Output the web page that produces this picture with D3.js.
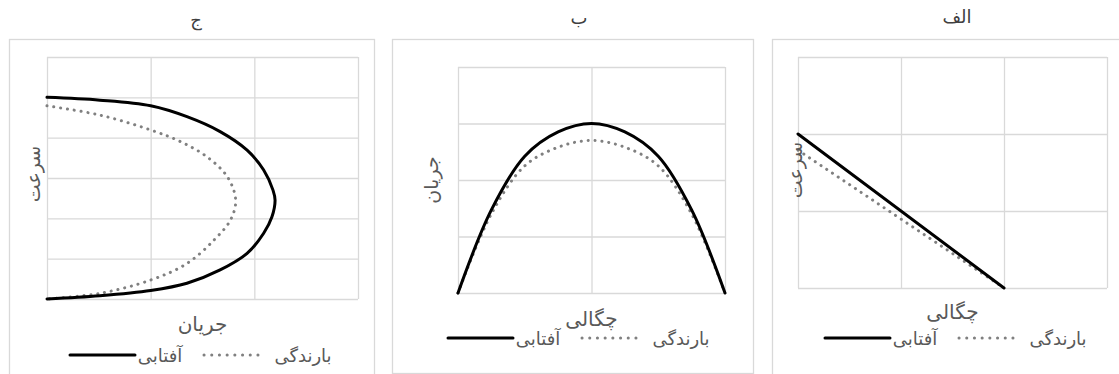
<!DOCTYPE html>
<html>
<head>
<meta charset="utf-8">
<script src="https://cdn.jsdelivr.net/npm/d3@7"></script>
<style>
  body { margin: 0; background: #fff; }
  svg { display: block; }
  text { font-family: "DejaVu Sans", "Liberation Serif", serif; }
</style>
</head>
<body>
<div id="chart"></div>
<script>
// titles and labels
var panelTitles = ['ج', 'ب', 'الف'];
var xTitles = ['جریان', 'چگالی', 'چگالی'];
var yTitles = ['سرعت', 'جریان', 'سرعت'];
var seriesNames = ['آفتابی', 'بارندگی'];

// panel الف : speed vs density
var densityA = [0, 2];
var speedSunA = [2, 0];
var speedRainA = [1.79, 0];

// panel ب : flow vs density
var densityB = [0, 0.25, 0.5, 0.75, 1, 1.25, 1.5, 1.75, 2];
var flowSunB = [0, 1.47, 2.42, 2.85, 3.0, 2.85, 2.42, 1.47, 0];
var flowRainB = [0, 1.4, 2.25, 2.58, 2.7, 2.58, 2.25, 1.4, 0];

// panel ج : speed vs flow
var speedSunC = [5.0, 4.93, 4.79, 4.52, 4.15, 3.69, 3.2, 2.7, 2.45, 2.04, 1.63, 1.13, 0.72, 0.39, 0.21, 0.08, 0];
var flowSunC = [0, 0.51, 1.0, 1.35, 1.67, 1.93, 2.09, 2.18, 2.2, 2.17, 2.09, 1.93, 1.67, 1.35, 1.0, 0.51, 0];
var speedRainC = [4.79, 4.56, 4.19, 3.9, 3.53, 3.03, 2.45, 1.96, 1.46, 0.88, 0.47, 0.14, 0];
var flowRainC = [0, 0.51, 1.0, 1.29, 1.54, 1.74, 1.82, 1.77, 1.61, 1.35, 1.0, 0.51, 0];

// axis ranges (grid steps)
var xMax = [3, 2, 3];
var yMax = [6, 4, 3];

var W = 1119, H = 374;
var svg = d3.select('#chart').append('svg').attr('width', W).attr('height', H);

function zip(xs, ys) { return xs.map(function(x, i) { return [x, ys[i]]; }); }

var panels = [
  { box: [9, 39, 365, 345], plot: [47, 57, 358, 299], title: [196, 26], xt: 331, yt: [33, 174], leg: 200, legY: 355,
    sun: zip(flowSunC, speedSunC), rain: zip(flowRainC, speedRainC), curve: d3.curveCatmullRom.alpha(0.5) },
  { box: [392, 39, 361, 334], plot: [458, 67, 725, 293], title: [579, 24], xt: 326, yt: [431, 180], leg: 578, legY: 338,
    sun: zip(densityB, flowSunB), rain: zip(densityB, flowRainB), curve: d3.curveCatmullRom.alpha(0.5) },
  { box: [772, 39, 360, 345], plot: [798, 57, 1107, 288], title: [957, 23], xt: 319, yt: [795, 170], leg: 955, legY: 338,
    sun: zip(densityA, speedSunA), rain: zip(densityA, speedRainA), curve: d3.curveLinear }
];

var grid = '#d9d9d9', textGrey = '#595959', rainGrey = '#808080';

panels.forEach(function(p, i) {
  var g = svg.append('g');
  g.append('rect')
    .attr('x', p.box[0] + 0.5).attr('y', p.box[1] + 0.5)
    .attr('width', p.box[2]).attr('height', p.box[3])
    .attr('fill', '#fff').attr('stroke', grid).attr('stroke-width', 1.3);

  g.append('text').attr('x', p.title[0]).attr('y', p.title[1])
    .attr('text-anchor', 'middle').attr('font-size', 18).attr('fill', '#404040')
    .text(panelTitles[i]);

  var x = d3.scaleLinear().domain([0, xMax[i]]).range([p.plot[0], p.plot[2]]);
  var y = d3.scaleLinear().domain([0, yMax[i]]).range([p.plot[3], p.plot[1]]);

  var gx = g.append('g').attr('transform', 'translate(0,' + p.plot[3] + ')')
    .call(d3.axisBottom(x).tickValues(d3.range(0, xMax[i] + 1)).tickSize(-(p.plot[3] - p.plot[1])).tickFormat(''));
  var gy = g.append('g').attr('transform', 'translate(' + p.plot[0] + ',0)')
    .call(d3.axisLeft(y).tickValues(d3.range(0, yMax[i] + 1)).tickSize(-(p.plot[2] - p.plot[0])).tickFormat(''));
  [gx, gy].forEach(function(a) {
    a.select('.domain').remove();
    a.selectAll('line').attr('stroke', grid).attr('stroke-width', 1.3);
  });

  var line = d3.line().x(function(d) { return x(d[0]); }).y(function(d) { return y(d[1]); }).curve(p.curve);

  g.append('path').attr('d', line(p.rain)).attr('fill', 'none')
    .attr('stroke', rainGrey).attr('stroke-width', 3).attr('stroke-linecap', 'round')
    .attr('stroke-dasharray', '0.1 6.8');
  g.append('path').attr('d', line(p.sun)).attr('fill', 'none')
    .attr('stroke', '#000').attr('stroke-width', 3).attr('stroke-linecap', 'round');

  // axis titles
  g.append('text').attr('x', (p.plot[0] + p.plot[2]) / 2).attr('y', p.xt)
    .attr('text-anchor', 'middle').attr('font-size', 20).attr('fill', textGrey)
    .text(xTitles[i]);
  g.append('text').attr('transform', 'translate(' + p.yt[0] + ',' + p.yt[1] + ') rotate(-90)')
    .attr('text-anchor', 'middle').attr('dy', '0.35em').attr('font-size', 19).attr('fill', textGrey)
    .text(yTitles[i]);

  // legend
  var lg = g.append('g').attr('transform', 'translate(' + p.leg + ',' + p.legY + ')');
  lg.append('line').attr('x1', -130).attr('x2', -65).attr('stroke', '#000')
    .attr('stroke-width', 3).attr('stroke-linecap', 'round');
  lg.append('text').attr('x', -40).attr('y', 7).attr('text-anchor', 'middle')
    .attr('font-size', 18).attr('fill', textGrey).text(seriesNames[0]);
  lg.append('line').attr('x1', 4).attr('x2', 65).attr('stroke', rainGrey)
    .attr('stroke-width', 3).attr('stroke-linecap', 'round').attr('stroke-dasharray', '0.1 7.6');
  lg.append('text').attr('x', 103).attr('y', 7).attr('text-anchor', 'middle')
    .attr('font-size', 18).attr('fill', textGrey).text(seriesNames[1]);
});
</script>
</body>
</html>
